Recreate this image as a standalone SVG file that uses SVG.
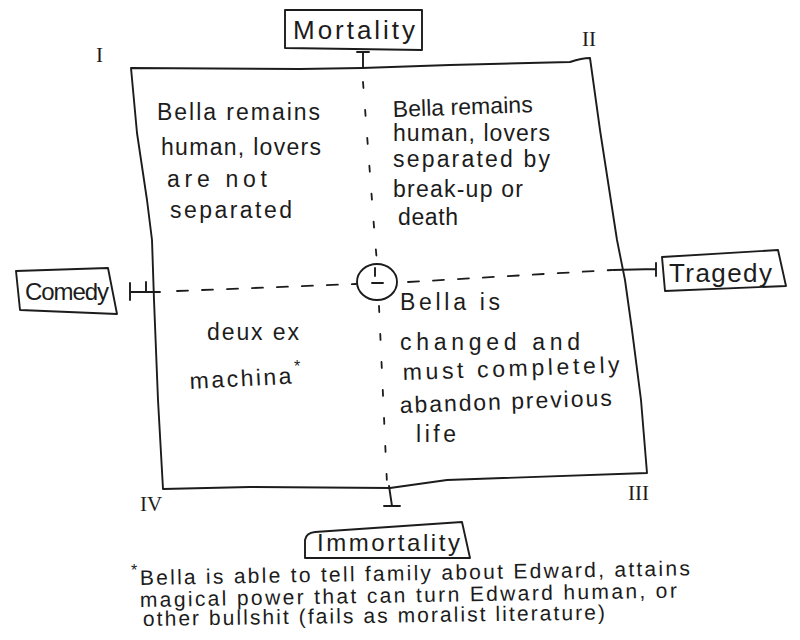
<svg xmlns="http://www.w3.org/2000/svg" width="800" height="640" viewBox="0 0 800 640">
<style>
.ink{fill:none;stroke:#1c1c1c;stroke-width:1.9;stroke-linecap:round;stroke-linejoin:round}
.dashv{fill:none;stroke:#1c1c1c;stroke-width:1.8;stroke-dasharray:6 22;stroke-linecap:round}
.dashh{fill:none;stroke:#1c1c1c;stroke-width:1.8;stroke-dasharray:11 14;stroke-linecap:round}
.t{font-family:"Liberation Sans",Arial,sans-serif;fill:#1c1c1c;font-size:23px}
.lab{font-family:"Liberation Sans",Arial,sans-serif;fill:#1c1c1c;font-size:26px}
.fn{font-family:"Liberation Sans",Arial,sans-serif;fill:#1c1c1c;font-size:21px}
.rn{font-family:"Liberation Serif","Times New Roman",serif;fill:#1c1c1c;font-size:21px}
</style>
<rect width="800" height="640" fill="#ffffff"/>

<g id="frame">
<path class="ink" d="M131,68 L300,69 L362,68 L450,65 L570,62 Q582,58 590,58 L600,130 L617,240 L625,280 L632,330 L641,400 L647,473 L447,480 L390,488 L250,487 L163,489 L158,400 L154,300 L152,240 L147,200 L137,133 Z"/>
<text class="rn" x="96" y="62">I</text>
<text class="rn" x="582" y="46">II</text>
<text class="rn" x="628" y="500">III</text>
<text class="rn" x="140" y="511">IV</text>
</g>

<g id="connectors">
<path class="ink" d="M357,52 L369,52 M363,52 L363,68"/>
<path class="dashv" d="M363,82 L375,240 L377,262"/>
<path class="dashv" d="M379,306 L387,484"/>
<path class="ink" d="M389,486 L392,506 M384,506 L400,506"/>
<path class="ink" d="M130,283 L130,300 M130,292 L160,292 M146,282 L146,291"/>
<path class="dashh" d="M177,291 L356,284"/>
<path class="dashh" d="M408,282 L612,270"/>
<path class="ink" d="M613,270 L656,269 M656,263 L656,276"/>
</g>

<g id="node-center">
<ellipse class="ink" cx="377" cy="282" rx="20" ry="18"/>
<path class="ink" d="M375,268 L375,276 M372,283 L383,283"/>
</g>

<g id="node-mortality">
<path class="ink" d="M285,10 L422,10 L422,50 L285,48 Z"/>
<text class="lab" x="293" y="39" textLength="122">Mortality</text>
</g>

<g id="node-immortality">
<path class="ink" d="M305,558 L305,540 Q306,533 315,532 L462,522 L470,558 Z"/>
<text class="lab" x="317" y="551" style="font-size:24px" textLength="143">Immortality</text>
</g>

<g id="node-comedy">
<path class="ink" d="M16,271 L108,268 L117,314 L20,310 Z"/>
<text class="lab" x="25" y="300" style="font-size:24px" textLength="84">Comedy</text>
</g>

<g id="node-tragedy">
<path class="ink" d="M662,257 L778,250 L786,286 L665,291 Z"/>
<text class="lab" x="669" y="282" textLength="103">Tragedy</text>
</g>

<g id="quadrant-1">
<text class="t" x="157" y="120" textLength="163">Bella remains</text>
<text class="t" x="161" y="155" textLength="160">human, lovers</text>
<text class="t" x="167" y="187" textLength="100">are not</text>
<text class="t" x="170" y="218" textLength="122">separated</text>
</g>

<g id="quadrant-2">
<text class="t" x="393" y="117" textLength="140" transform="rotate(-2 393 117)">Bella remains</text>
<text class="t" x="393" y="141" textLength="157">human, lovers</text>
<text class="t" x="393" y="167" textLength="157">separated by</text>
<text class="t" x="393" y="197" textLength="130">break-up or</text>
<text class="t" x="398" y="225" textLength="60">death</text>
</g>

<g id="quadrant-3">
<text class="t" x="400" y="310" textLength="100">Bella is</text>
<text class="t" x="400" y="350" textLength="180">changed and</text>
<text class="t" x="403" y="380" textLength="217" transform="rotate(-2 403 380)">must completely</text>
<text class="t" x="400" y="413" textLength="212" transform="rotate(-2 400 413)">abandon previous</text>
<text class="t" x="416" y="442" textLength="40">life</text>
</g>

<g id="quadrant-4">
<text class="t" x="207" y="340" textLength="92">deux ex</text>
<text class="t" x="190" y="389" textLength="102" transform="rotate(-3 190 389)">machina</text>
<text class="t" x="294" y="372" style="font-size:16px">*</text>
</g>

<g id="footnote">
<text class="fn" x="131" y="576" style="font-size:16px">*</text>
<text class="fn" x="140" y="585" textLength="550" transform="rotate(-1 140 585)">Bella is able to tell family about Edward, attains</text>
<text class="fn" x="140" y="607" textLength="537" transform="rotate(-1 140 607)">magical power that can turn Edward human, or</text>
<text class="fn" x="143" y="626" textLength="462" transform="rotate(-0.8 143 626)">other bullshit (fails as moralist literature)</text>
</g>
</svg>
